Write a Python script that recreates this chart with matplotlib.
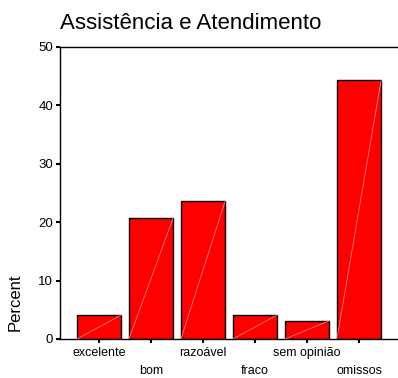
import numpy as np
import matplotlib.pyplot as plt

plt.rcParams['font.family'] = ['Liberation Sans', 'DejaVu Sans']

# Data
categories = ['excelente', 'bom', 'razoável', 'fraco', 'sem opinião', 'omissos']
percent = [4.1, 20.7, 23.6, 4.1, 3.1, 44.3]

x = np.arange(len(categories))

fig = plt.figure(figsize=(3.98, 3.78), dpi=100)
ax = fig.add_axes([0.1508, 0.1032, 0.8492, 0.7725])

bars = ax.bar(x, percent, width=0.85, color='#ff0000', edgecolor='black', linewidth=1.0, zorder=2)

# faint diagonal line inside each bar (as in the original rendering)
for b in bars:
    x0, y0 = b.get_x(), b.get_y()
    ax.plot([x0, x0 + b.get_width()], [y0, y0 + b.get_height()],
            color='#ff9a9a', linewidth=0.5, zorder=3)

ax.set_xlim(-0.75, 5.75)
ax.set_ylim(0, 50)
ax.set_yticks([0, 10, 20, 30, 40, 50])

# alternating two-row x labels
ax.set_xticks(x[0::2], categories[0::2])
ax.set_xticks(x[1::2], categories[1::2], minor=True)
ax.tick_params(axis='x', which='major', length=3, width=1.5, pad=3, labelsize=9)
ax.tick_params(axis='x', which='minor', length=3, width=1.5, pad=16, labelsize=9)
ax.tick_params(axis='y', length=3, width=1.5, pad=2, labelsize=9.5)

ax.spines['right'].set_visible(False)
for s in ['left', 'top', 'bottom']:
    ax.spines[s].set_linewidth(1.0)

ax.set_ylabel('Percent', fontsize=12)
ax.yaxis.set_label_coords(-0.112, 0.127)

fig.text(0.1508, 0.923, 'Assistência e Atendimento', fontsize=16, ha='left', va='baseline')

fig.savefig('out.png', dpi=100)
